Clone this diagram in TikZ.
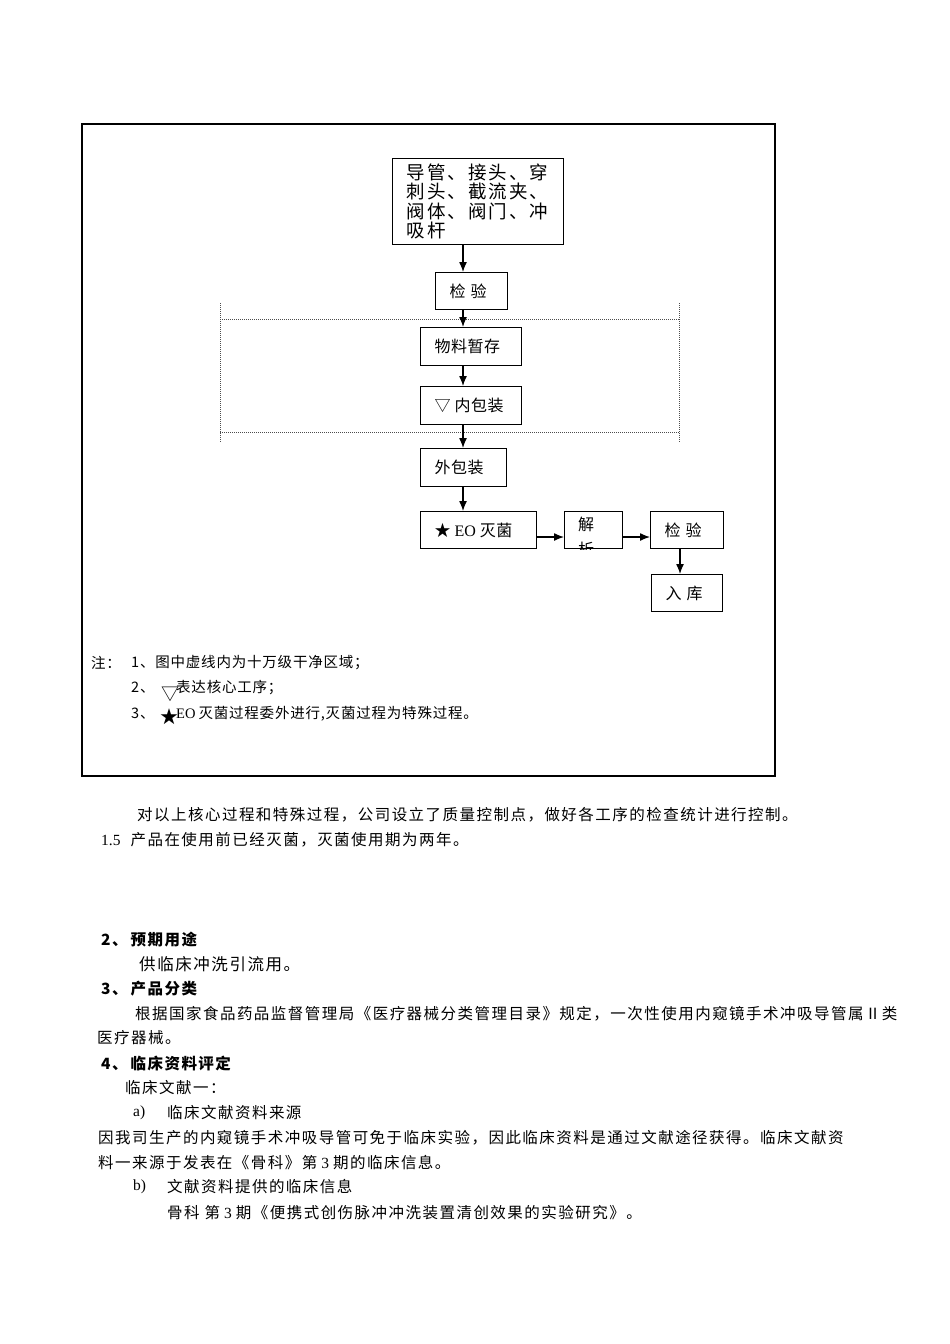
\documentclass[tikz,border=0pt]{standalone}
\usepackage{fontspec}
\setmainfont{Liberation Serif}
\newfontfamily\lat{Liberation Serif}
\newfontfamily\cjk[LetterSpace=9.5]{Noto Sans CJK SC}
\newfontfamily\cjkn[LetterSpace=5.5]{Noto Sans CJK SC}
\newfontfamily\cjkd[LetterSpace=3]{Noto Sans CJK SC}
\newfontfamily\cjkw[LetterSpace=11]{Noto Sans CJK SC}
\usetikzlibrary{arrows.meta}
\begin{document}
\begin{tikzpicture}[x=1pt,y=-1pt,
  box/.style={draw, line width=1.3pt, anchor=north west, inner ysep=0pt, inner xsep=14pt, align=left,
    font=\fontsize{16}{19}\selectfont\cjkd},
  arr/.style={line width=1.3pt, -{Latex[length=10pt,width=8pt]}},
  zone/.style={densely dotted, line width=1pt, black!70},
  body/.style={anchor=west, inner sep=0pt, font=\fontsize{15.5}{18}\selectfont\cjk},
  note/.style={anchor=west, inner sep=0pt, font=\fontsize{14.5}{17}\selectfont\cjkn},
  sym/.style={anchor=west, inner sep=0pt, font=\fontsize{18}{18}\selectfont\cjkn},
  head/.style={anchor=west, inner sep=0pt, font=\fontsize{15.5}{18}\selectfont\cjk\bfseries}]

\useasboundingbox (0,0) rectangle (950,1344);
\fill[white] (0,0) rectangle (950,1344);

% outer frame
\draw[line width=2.5pt] (82,124) rectangle (775,776);

% clean zone (dotted)
\draw[zone] (220,303) -- (220,442);
\draw[zone] (679,303) -- (679,442);
\draw[zone] (220,319) -- (679,319);
\draw[zone] (220,432) -- (679,432);

% boxes
\node[box, text width=143pt, minimum height=86pt, font=\fontsize{18.5}{19.5}\selectfont\cjkw] (src) at (392,158)
  {导管、接头、穿\\刺头、截流夹、\\阀体、阀门、冲\\吸杆};
\node[box, text width=44pt, minimum height=37pt] (chk1) at (435,272) {检\hspace{5pt}验};
\node[box, text width=73pt, minimum height=38pt] (store) at (420,327) {物料暂存};
\node[box, text width=73pt, minimum height=38pt] (inner) at (420,386) {▽\hspace{4pt}内包装};
\node[box, text width=58pt, minimum height=38pt] (outer) at (420,448) {外包装};
\node[box, text width=88pt, minimum height=37pt] (eo) at (420,511) {★\hspace{4pt}{\lat EO}\hspace{4pt}灭菌};
\node[box, text width=30pt, minimum height=37pt] (jx) at (564,511) {};
\begin{scope}
  \clip (jx.south west) rectangle (jx.north east);
  \node[anchor=north west, inner sep=0pt, align=left, font=\fontsize{16}{25}\selectfont\cjkd] (jxt) at (578,517) {解\\析};
\end{scope}
\node[box, text width=45pt, minimum height=37pt] (chk2) at (650,511) {检\hspace{5pt}验};
\node[box, text width=43pt, minimum height=37pt] (stock) at (651,574) {入\hspace{5pt}库};

% connectors
\coordinate (ax) at (463,0);
\coordinate (ay) at (0,537);
\coordinate (ax2) at (680,0);
\draw[arr] (src.south -| ax) -- (chk1.north -| ax);
\draw[arr] (chk1.south -| ax) -- (store.north -| ax);
\draw[arr] (store.south -| ax) -- (inner.north -| ax);
\draw[arr] (inner.south -| ax) -- (outer.north -| ax);
\draw[arr] (outer.south -| ax) -- (eo.north -| ax);
\draw[arr] (eo.east |- ay) -- (jx.west |- ay);
\draw[arr] (jx.east |- ay) -- (chk2.west |- ay);
\draw[arr] (chk2.south -| ax2) -- (stock.north -| ax2);

% notes
\node[note] (n0) at (91,663) {注：};
\node[note] (n1) at (131,663) {1、图中虚线内为十万级干净区域；};
\node[note] (n2) at (131,688) {2、};
\node[sym] (n2s) at (161,694) {▽};
\node[note] (n2t) at (176,688) {表达核心工序；};
\node[note] (n3) at (131,714) {3、};
\node[sym] (n3s) at (160,717) {★};
\node[note] (n3t) at (176,714) {{\lat EO}\hspace{3pt}灭菌过程委外进行,灭菌过程为特殊过程。};

% body text
\node[body] (p1) at (137,815) {对以上核心过程和特殊过程，公司设立了质量控制点，做好各工序的检查统计进行控制。};
\node[body] (p2) at (101,840) {{\lat 1.5}\hspace{10pt}产品在使用前已经灭菌，灭菌使用期为两年。};
\node[head] (h2) at (101,940) {2、\hspace{3pt}预期用途};
\node[body, font=\fontsize{16.5}{19}\selectfont\cjk] (p3) at (139,964) {供临床冲洗引流用。};
\node[head] (h3) at (101,989) {3、\hspace{3pt}产品分类};
\node[body] (p4) at (135,1014) {根据国家食品药品监督管理局《医疗器械分类管理目录》规定，一次性使用内窥镜手术冲吸导管属Ⅱ类};
\node[body] (p5) at (97,1038) {医疗器械。};
\node[head] (h4) at (101,1064) {4、\hspace{3pt}临床资料评定};
\node[body] (p6) at (125,1088) {临床文献一：};
\node[body] (p7a) at (133,1113) {{\lat a)}};
\node[body] (p7) at (167,1113) {临床文献资料来源};
\node[body] (p8) at (98,1138) {因我司生产的内窥镜手术冲吸导管可免于临床实验，因此临床资料是通过文献途径获得。临床文献资};
\node[body] (p9) at (98,1163) {料一来源于发表在《骨科》第\hspace{4pt}{\lat 3}\hspace{4pt}期的临床信息。};
\node[body] (p10a) at (133,1187) {{\lat b)}};
\node[body] (p10) at (167,1187) {文献资料提供的临床信息};
\node[body] (p11) at (167,1213) {骨科\hspace{5pt}第\hspace{4pt}{\lat 3}\hspace{4pt}期《便携式创伤脉冲冲洗装置清创效果的实验研究》。};
\end{tikzpicture}
\end{document}
